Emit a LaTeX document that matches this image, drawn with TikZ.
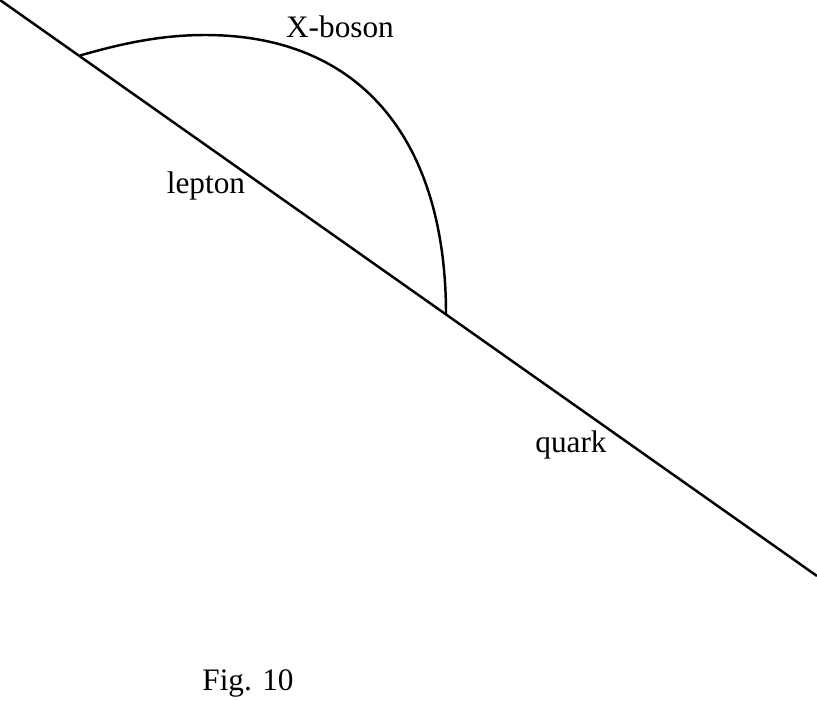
\documentclass[tikz,border=0pt]{standalone}
\usepackage{fontspec}
\setmainfont{Liberation Serif}
\begin{document}
\begin{tikzpicture}[x=0.02cm,y=-0.02cm,
  lbl/.style={anchor=base,inner sep=0pt,font=\fontsize{17.8}{21}\selectfont},
  ln/.style={line width=1.4pt}]
\useasboundingbox (0,0) rectangle (817,700);
\coordinate (A) at (0,0);
\coordinate (B) at (817,576);
\coordinate (V1) at (80,55.5);
\coordinate (T) at (205,35);
\coordinate (V2) at (446,314.5);
\draw[ln] (A) -- (B);
\draw[ln] (V1) .. controls (120,44) and (160,35) .. (T)
  .. controls (365,35) and (446,145) .. (V2);
\node[lbl] (xb) at (340,37) {X-boson};
\node[lbl] (lep) at (206,193) {lepton};
\node[lbl] (qk) at (571,452) {quark};
\node[lbl] (fig) at (248,690) {Fig. 10};
\end{tikzpicture}
\end{document}
